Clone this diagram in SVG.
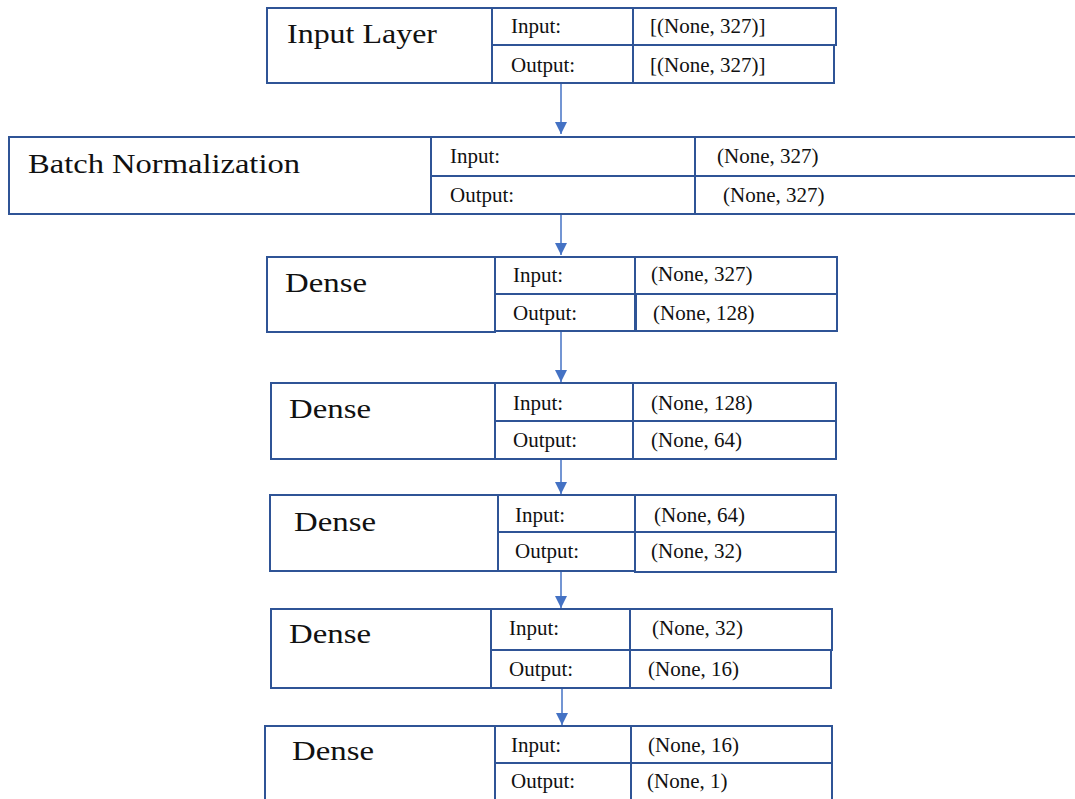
<svg xmlns="http://www.w3.org/2000/svg" width="1075" height="799" viewBox="0 0 1075 799">
<defs>
<style>
.box{fill:#ffffff;stroke:#2F5496;stroke-width:2}
.title{font-family:"Liberation Serif","Times New Roman",serif;font-size:28px;fill:#111}
.lbl{font-family:"Liberation Serif","Times New Roman",serif;font-size:21px;fill:#111}
.conn{stroke:#4472C4;stroke-width:1.5;fill:none}
</style>
<marker id="ah" viewBox="0 0 12 12" refX="12" refY="6" markerWidth="12" markerHeight="12" markerUnits="userSpaceOnUse" orient="auto">
<path d="M0,0 L12,6 L0,12 Z" fill="#4472C4"/>
</marker>
</defs>
<rect width="1075" height="799" fill="#ffffff"/>

<g id="connectors">
<line class="conn" x1="561" y1="83" x2="561" y2="134" marker-end="url(#ah)"/>
<line class="conn" x1="561" y1="214" x2="561" y2="255" marker-end="url(#ah)"/>
<line class="conn" x1="561" y1="332" x2="561" y2="382" marker-end="url(#ah)"/>
<line class="conn" x1="561" y1="459" x2="561" y2="494" marker-end="url(#ah)"/>
<line class="conn" x1="561" y1="572" x2="561" y2="608" marker-end="url(#ah)"/>
<line class="conn" x1="562" y1="688" x2="562" y2="725" marker-end="url(#ah)"/>
</g>

<g id="input-layer">
<rect class="box" x="267" y="8" width="225" height="75"/>
<rect class="box" x="492" y="8" width="141" height="37"/>
<rect class="box" x="492" y="45" width="141" height="38"/>
<rect class="box" x="633" y="8" width="203" height="37"/>
<rect class="box" x="633" y="45" width="201" height="38"/>
<text class="title" x="287" y="43" textLength="150" lengthAdjust="spacingAndGlyphs">Input Layer</text>
<text class="lbl" x="511" y="33">Input:</text>
<text class="lbl" x="511" y="72">Output:</text>
<text class="lbl" x="650" y="33">[(None, 327)]</text>
<text class="lbl" x="650" y="72">[(None, 327)]</text>
</g>

<g id="batch-normalization">
<rect class="box" x="9" y="137" width="422" height="77"/>
<rect class="box" x="431" y="137" width="264" height="39"/>
<rect class="box" x="431" y="176" width="264" height="38"/>
<rect class="box" x="695" y="137" width="390" height="39"/>
<rect class="box" x="695" y="176" width="390" height="38"/>
<text class="title" x="28" y="173" textLength="272" lengthAdjust="spacingAndGlyphs">Batch Normalization</text>
<text class="lbl" x="450" y="163">Input:</text>
<text class="lbl" x="450" y="202">Output:</text>
<text class="lbl" x="717" y="163">(None, 327)</text>
<text class="lbl" x="723" y="202">(None, 327)</text>
</g>

<g id="dense-1">
<rect class="box" x="267" y="257" width="228" height="75"/>
<rect class="box" x="495" y="257" width="140" height="37"/>
<rect class="box" x="495" y="294" width="140" height="37"/>
<rect class="box" x="635" y="257" width="202" height="37"/>
<rect class="box" x="636" y="294" width="201" height="37"/>
<text class="title" x="285" y="292" textLength="82" lengthAdjust="spacingAndGlyphs">Dense</text>
<text class="lbl" x="513" y="282">Input:</text>
<text class="lbl" x="513" y="320">Output:</text>
<text class="lbl" x="651" y="281">(None, 327)</text>
<text class="lbl" x="653" y="320">(None, 128)</text>
</g>

<g id="dense-2">
<rect class="box" x="271" y="383" width="224" height="76"/>
<rect class="box" x="495" y="383" width="138" height="38"/>
<rect class="box" x="495" y="421" width="138" height="38"/>
<rect class="box" x="633" y="383" width="203" height="38"/>
<rect class="box" x="633" y="421" width="203" height="38"/>
<text class="title" x="289" y="418" textLength="82" lengthAdjust="spacingAndGlyphs">Dense</text>
<text class="lbl" x="513" y="410">Input:</text>
<text class="lbl" x="513" y="447">Output:</text>
<text class="lbl" x="651" y="410">(None, 128)</text>
<text class="lbl" x="651" y="447">(None, 64)</text>
</g>

<g id="dense-3">
<rect class="box" x="270" y="495" width="228" height="76"/>
<rect class="box" x="498" y="495" width="137" height="37"/>
<rect class="box" x="498" y="532" width="137" height="39"/>
<rect class="box" x="635" y="495" width="201" height="37"/>
<rect class="box" x="635" y="532" width="201" height="40"/>
<text class="title" x="294" y="531" textLength="82" lengthAdjust="spacingAndGlyphs">Dense</text>
<text class="lbl" x="515" y="522">Input:</text>
<text class="lbl" x="515" y="558">Output:</text>
<text class="lbl" x="654" y="522">(None, 64)</text>
<text class="lbl" x="651" y="558">(None, 32)</text>
</g>

<g id="dense-4">
<rect class="box" x="271" y="609" width="220" height="79"/>
<rect class="box" x="491" y="609" width="139" height="41"/>
<rect class="box" x="491" y="650" width="139" height="38"/>
<rect class="box" x="630" y="609" width="202" height="41"/>
<rect class="box" x="630" y="650" width="201" height="38"/>
<text class="title" x="289" y="643" textLength="82" lengthAdjust="spacingAndGlyphs">Dense</text>
<text class="lbl" x="509" y="635">Input:</text>
<text class="lbl" x="509" y="676">Output:</text>
<text class="lbl" x="652" y="635">(None, 32)</text>
<text class="lbl" x="648" y="676">(None, 16)</text>
</g>

<g id="dense-5">
<rect class="box" x="265" y="726" width="230" height="90"/>
<rect class="box" x="495" y="726" width="136" height="37"/>
<rect class="box" x="495" y="763" width="136" height="53"/>
<rect class="box" x="631" y="726" width="201" height="37"/>
<rect class="box" x="631" y="763" width="201" height="53"/>
<text class="title" x="292" y="760" textLength="82" lengthAdjust="spacingAndGlyphs">Dense</text>
<text class="lbl" x="511" y="752">Input:</text>
<text class="lbl" x="511" y="788">Output:</text>
<text class="lbl" x="648" y="752">(None, 16)</text>
<text class="lbl" x="647" y="788">(None, 1)</text>
</g>
</svg>
